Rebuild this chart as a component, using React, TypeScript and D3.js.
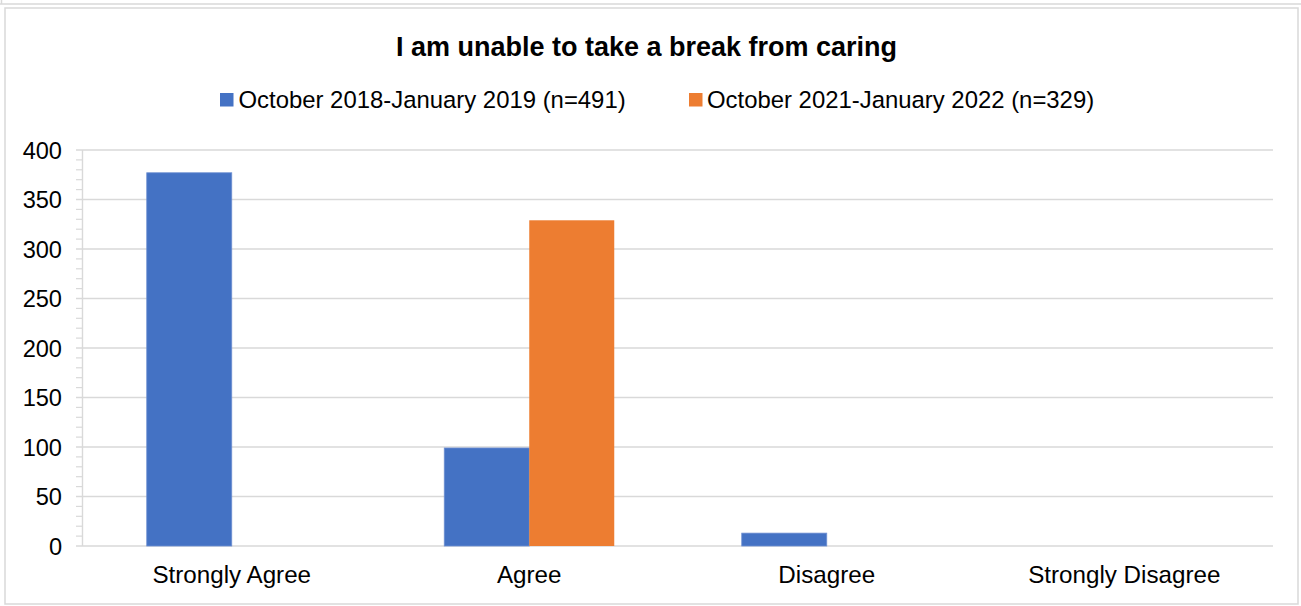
import React from "react";
import * as d3 from "d3";

const title = "I am unable to take a break from caring";
const categories = ["Strongly Agree", "Agree", "Disagree", "Strongly Disagree"];
const seriesNames = [
  "October 2018-January 2019 (n=491)",
  "October 2021-January 2022 (n=329)",
];
const series2018 = [377, 99, 13, 0];
const series2022 = [0, 329, 0, 0];
const yTicks = [0, 50, 100, 150, 200, 250, 300, 350, 400];
const colors = ["#4472C4", "#ED7D31"];

const W = 1301;
const H = 606;
const FONT = "'Liberation Sans', Arial, sans-serif";

export default function App() {
  const plotL = 83;
  const plotR = 1273;
  const plotT = 150;
  const plotB = 546;

  const x = d3.scaleBand<string>().domain(categories).range([plotL, plotR]).paddingInner(0).paddingOuter(0);
  const xs = d3
    .scaleBand<string>()
    .domain(seriesNames)
    .range([0, x.bandwidth()])
    .paddingInner(0)
    .paddingOuter(0.75);
  const y = d3.scaleLinear().domain([0, 400]).range([plotB, plotT]);
  const minorTicks = d3.range(0, 401, 10);
  const data = [series2018, series2022];

  const gridColor = "#d9d9d9";

  return (
    <svg
      width={W}
      height={H}
      style={{ position: "absolute", left: 0, top: 0, background: "#fff" }}
      fontFamily={FONT}
    >
      <rect x={0} y={0} width={W} height={H} fill="#fff" />
      {/* remnant of previous element */}
      <line x1={0} x2={W} y1={4} y2={4} stroke={gridColor} strokeWidth={1.5} />
      <line x1={1.5} x2={1.5} y1={0} y2={4} stroke={gridColor} strokeWidth={1.5} />
      {/* chart frame */}
      <rect x={5} y={8} width={1293} height={596} fill="#fff" stroke={gridColor} strokeWidth={1.5} />

      <text x={646.5} y={56} textAnchor="middle" fontSize={27} fontWeight="bold" fill="#000">
        {title}
      </text>

      {/* legend */}
      {[
        { sx: 220, tx: 238.5 },
        { sx: 689, tx: 707 },
      ].map((p, i) => (
        <g key={i}>
          <rect x={p.sx} y={93} width={13.5} height={13.5} fill={colors[i]} />
          <text x={p.tx} y={108} fontSize={23.9} fill="#000">
            {seriesNames[i]}
          </text>
        </g>
      ))}

      {/* gridlines */}
      {yTicks.map((t) => (
        <line key={t} x1={76} x2={plotR} y1={y(t)} y2={y(t)} stroke={gridColor} strokeWidth={1.4} />
      ))}
      {minorTicks
        .filter((t) => t % 50 !== 0)
        .map((t) => (
          <line key={"m" + t} x1={76} x2={82.5} y1={y(t)} y2={y(t)} stroke={gridColor} strokeWidth={1.2} />
        ))}
      <line x1={82.5} x2={82.5} y1={plotT} y2={plotB} stroke={gridColor} strokeWidth={1.4} />

      {/* y tick labels */}
      {yTicks.map((t) => (
        <text key={"l" + t} x={62} y={y(t) + 8.5} textAnchor="end" fontSize={23.6} fill="#000">
          {t}
        </text>
      ))}

      {/* bars */}
      {categories.map((c, ci) => (
        <g key={c} transform={`translate(${x(c)},0)`}>
          {seriesNames.map((s, si) => {
            const v = data[si][ci];
            if (!v) return null;
            return (
              <rect
                key={s}
                x={xs(s)}
                y={y(v)}
                width={xs.bandwidth()}
                height={y(0) - y(v)}
                fill={colors[si]}
                stroke={si === 0 ? "#6d8fd2" : "none"}
                strokeWidth={0.8}
              />
            );
          })}
        </g>
      ))}

      {/* category labels */}
      {categories.map((c) => (
        <text key={"c" + c} x={(x(c) as number) + x.bandwidth() / 2} y={583} textAnchor="middle" fontSize={24.2} fill="#000">
          {c}
        </text>
      ))}
    </svg>
  );
}
